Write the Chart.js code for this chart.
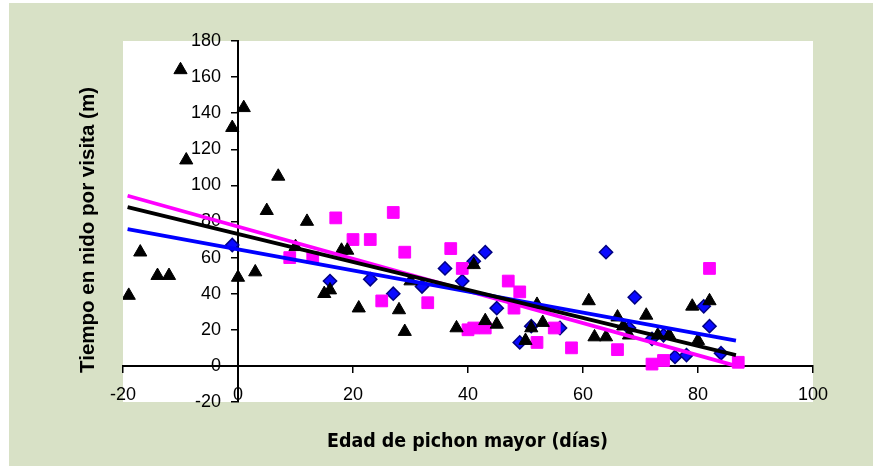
<!DOCTYPE html>
<html><head><meta charset="utf-8">
<script src="https://cdn.jsdelivr.net/npm/chart.js@4/dist/chart.umd.min.js"></script>
<style>html,body{margin:0;padding:0;background:#fff;}#wrap{width:873px;height:466px;position:relative;}</style>
</head><body><div id="wrap"><canvas id="c" width="873" height="466"></canvas></div>
<script>
// ---- text ----
const xTitle = 'Edad de pichon mayor (días)';
const yTitle = 'Tiempo en nido por visita (m)';
// ---- tick labels ----
const xTicks = [-20, 0, 20, 40, 60, 80, 100];
const yTicks = [-20, 0, 20, 40, 60, 80, 100, 120, 140, 160, 180];
// ---- black triangles ----
const triX = [-19, -17, -14, -12, -10, -9, -1, 0, 1, 3, 5, 7, 10, 12, 15, 16, 18, 19, 21, 28, 29, 30, 38, 41, 43, 45, 50, 51, 52, 53, 61, 62, 64, 66, 67, 68, 71, 73, 75, 79, 80, 82];
const triY = [39, 63, 50, 50, 164, 114, 132, 49, 143, 52, 86, 105, 66, 80, 40, 42, 64, 64, 32, 31, 19, 47, 21, 56, 25, 23, 14, 21, 34, 24, 36, 16, 16, 27, 22, 17, 28, 17, 17, 33, 14, 36];
// ---- blue diamonds ----
const diaX = [-1, 16, 23, 27, 32, 36, 39, 41, 43, 45, 49, 51, 56, 64, 68, 69, 72, 74, 76, 78, 81, 82, 84];
const diaY = [67, 47, 48, 40, 44, 54, 47, 58, 63, 32, 13, 22, 21, 63, 21, 38, 15, 17, 5, 6, 33, 22, 7];
// ---- magenta squares ----
const sqX = [9, 13, 17, 20, 23, 25, 27, 29, 33, 37, 39, 40, 41, 43, 47, 48, 49, 52, 55, 58, 66, 72, 74, 82, 87];
const sqY = [60, 60, 82, 70, 70, 36, 85, 63, 35, 65, 54, 20, 21, 21, 47, 32, 41, 13, 21, 10, 9, 1, 3, 54, 2];
// ---- linear trend lines (end points) ----
const fitX = [-19.2, 86.6];
const fitBlack = [88, 6];
const fitMagenta = [94.3, 0];
const fitBlue = [75.8, 14];

const GREEN = '#d8e1c6';
const pts = (xs, ys) => xs.map((x, i) => ({x: x, y: ys[i]}));

const bgPlugin = {
  id: 'bg',
  beforeDraw(chart) {
    const {ctx, chartArea: a} = chart;
    ctx.save();
    ctx.fillStyle = '#fff';
    ctx.fillRect(0, 0, chart.width, chart.height);
    ctx.fillStyle = GREEN;
    ctx.fillRect(9, 3, chart.width - 9, chart.height - 3);
    ctx.fillStyle = '#fff';
    ctx.fillRect(a.left, a.top, a.right - a.left, a.bottom - a.top);
    ctx.restore();
    // place y tick labels left of the y axis (which crosses at x = 0)
    const x0 = chart.scales.x.getPixelForValue(0);
    chart.scales.y.getLabelItems(a).forEach(it => {
      it.options.translation[0] = x0 - 17;
      it.options.textAlign = 'right';
    });
  },
  afterDraw(chart) {
    const ctx = chart.ctx;
    ctx.save();
    ctx.fillStyle = '#000';
    ctx.textAlign = 'center';
    ctx.textBaseline = 'middle';
    // x title
    const famX = "'DejaVu Sans Condensed','DejaVu Sans',sans-serif";
    ctx.font = "bold condensed 20px " + famX;
    let w = ctx.measureText(xTitle).width;
    let s = 20 * 281 / w;
    ctx.font = "bold condensed " + s.toFixed(2) + "px " + famX;
    ctx.fillText(xTitle, 467.5, 442);
    // y title
    const famY = "'Liberation Sans',Arial,sans-serif";
    ctx.font = "bold 20px " + famY;
    w = ctx.measureText(yTitle).width;
    s = 20 * 286 / w;
    ctx.font = "bold " + s.toFixed(2) + "px " + famY;
    ctx.translate(88, 230);
    ctx.rotate(-Math.PI / 2);
    ctx.fillText(yTitle, 0, 0);
    ctx.restore();
  }
};

const tickFont = {family: "'Liberation Sans', Arial, sans-serif", size: 18};

new Chart(document.getElementById('c'), {
  type: 'scatter',
  data: {
    datasets: [
      {type: 'line', data: pts(fitX, fitBlack), borderColor: '#000', borderWidth: 3.75, pointRadius: 0, fill: false, order: 0},
      {type: 'line', data: pts(fitX, fitBlue), borderColor: '#0000ff', borderWidth: 3.75, pointRadius: 0, fill: false, order: 1},
      {type: 'line', data: pts(fitX, fitMagenta), borderColor: '#ff00ff', borderWidth: 3.75, pointRadius: 0, fill: false, order: 2},
      {data: pts(triX, triY), pointStyle: 'triangle', pointRadius: 7.6, backgroundColor: '#000', borderColor: '#000', borderWidth: 1, order: 3},
      {data: pts(sqX, sqY), pointStyle: 'rect', pointRadius: 8.3, backgroundColor: '#ff00ff', borderColor: '#ff00ff', borderWidth: 1, order: 4},
      {data: pts(diaX, diaY), pointStyle: 'rectRot', pointRadius: 6.6, backgroundColor: '#0a0aff', borderColor: '#000080', borderWidth: 1.5, order: 5}
    ]
  },
  options: {
    responsive: false,
    animation: false,
    devicePixelRatio: 1,
    layout: {padding: {left: 123, right: 60, top: 41, bottom: 64}},
    plugins: {legend: {display: false}, tooltip: {enabled: false}},
    scales: {
      x: {
        type: 'linear', min: -20, max: 100, position: {y: 0},
        afterBuildTicks: sc => { sc.ticks = xTicks.map(v => ({value: v})); },
        grid: {display: true, drawOnChartArea: false, drawTicks: true, tickLength: 6, color: '#000', lineWidth: 1.5},
        border: {display: true, color: '#000', width: 2},
        ticks: {color: '#000', font: tickFont, padding: 12, maxRotation: 0, autoSkip: false}
      },
      y: {
        type: 'linear', min: -20, max: 180, position: {x: 0},
        afterBuildTicks: sc => { sc.ticks = yTicks.map(v => ({value: v})); },
        grid: {display: true, drawOnChartArea: false, drawTicks: true, tickLength: 6, color: '#000', lineWidth: 1.5},
        border: {display: true, color: '#000', width: 2},
        ticks: {color: '#000', font: tickFont, padding: 4, autoSkip: false}
      }
    }
  },
  plugins: [bgPlugin]
});
</script>
</body></html>
